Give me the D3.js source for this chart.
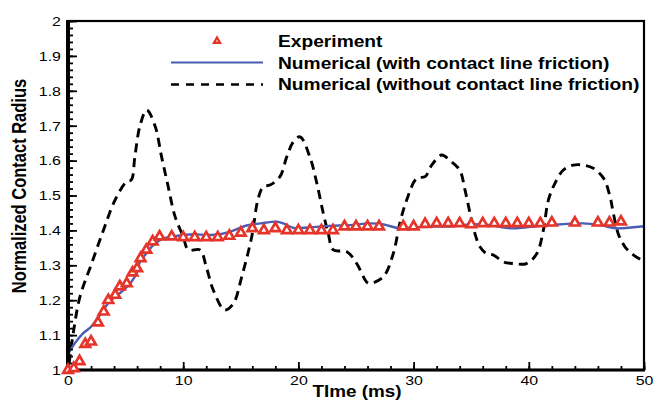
<!DOCTYPE html>
<html>
<head>
<meta charset="utf-8">
<script src="https://cdn.jsdelivr.net/npm/d3@7"></script>
<style>
  html, body { margin: 0; padding: 0; background: #fff; }
  svg { display: block; font-family: "Liberation Sans", Arial, sans-serif; }
</style>
</head>
<body>
<div id="root"></div>
<script>
// experiment (red open triangles)
const expT = [0, 0.5, 1.0, 1.5, 2.0, 2.6, 3.1, 3.5, 4.1, 4.5, 5.1, 5.6, 6.0, 6.3, 6.8, 7.35, 7.95,
  9, 10, 11, 12, 13, 14, 15, 16, 17, 18, 19, 20, 21, 22, 23, 24, 25, 26, 27,
  29.1, 30, 31, 32, 33, 34, 35, 36, 37, 38, 39, 40, 41, 42, 44, 46, 47, 48];
const expR = [1.0, 1.005, 1.025, 1.074, 1.081, 1.136, 1.167, 1.2, 1.215, 1.239, 1.248, 1.279, 1.291, 1.32, 1.344, 1.368, 1.382,
  1.382, 1.38, 1.38, 1.38, 1.38, 1.384, 1.393, 1.406, 1.4, 1.406, 1.4, 1.4, 1.4, 1.4, 1.4, 1.411, 1.411, 1.411, 1.411,
  1.411, 1.411, 1.418, 1.42, 1.42, 1.42, 1.417, 1.42, 1.42, 1.42, 1.42, 1.42, 1.42, 1.422, 1.422, 1.422, 1.422, 1.425];

// numerical, with contact line friction (blue)
const withT = [0, 0.6, 1.3, 2.0, 2.8, 3.6, 4.5, 5.4, 5.95, 6.25, 6.8, 7.4, 8.3, 9.4, 10.9, 12.0, 13.2, 14.4, 15.5,
  16.7, 18.1, 18.7, 19.6, 21.0, 22.7, 24.5, 26.2, 27.4, 28.8, 30.3, 31.7, 33.2, 35.2, 36.6, 38.4, 39.8, 41.8,
  44.7, 46.2, 47.6, 49.7, 50];
const withR = [1.045, 1.077, 1.105, 1.124, 1.158, 1.196, 1.22, 1.248, 1.277, 1.31, 1.334, 1.358, 1.377, 1.384, 1.389, 1.387, 1.389, 1.4, 1.414,
  1.42, 1.425, 1.42, 1.407, 1.409, 1.413, 1.415, 1.42, 1.417, 1.406, 1.409, 1.411, 1.411, 1.418, 1.415, 1.406, 1.409, 1.415,
  1.42, 1.415, 1.406, 1.411, 1.412];

// numerical, without contact line friction (black dashed)
const withoutT = [0.1, 0.5, 1.04, 2.05, 3.07, 4.08, 5.09, 5.5, 5.8, 6.25, 6.83, 7.55, 8.13, 8.7, 9.29, 10.0, 10.45, 11.46,
  12.0, 12.6, 13.6, 14.35, 15.08, 15.95, 16.5, 16.95, 17.53, 18.4, 18.98, 19.56, 20.14, 21.0, 21.6, 22.16, 22.6, 23.03,
  24.2, 25.06, 25.9, 26.2, 27.37, 28.24, 28.8, 29.4, 30.27, 31.0, 31.57, 32.44, 33.16, 34.0, 34.46, 34.9, 35.33, 35.76,
  36.3, 36.9, 37.8, 38.66, 39.8, 40.7, 41.26, 41.7, 42.27, 43.0, 43.86, 44.73, 45.6, 46.5, 47.05, 47.34, 47.77, 48.35,
  49.07, 49.8, 50];
const withoutR = [1.02, 1.115, 1.21, 1.305, 1.4, 1.487, 1.54, 1.545, 1.61, 1.7, 1.745, 1.7, 1.61, 1.525, 1.44, 1.382, 1.344, 1.344,
  1.296, 1.23, 1.172, 1.19, 1.267, 1.382, 1.49, 1.525, 1.53, 1.554, 1.61, 1.654, 1.668, 1.61, 1.535, 1.449, 1.39, 1.344,
  1.339, 1.305, 1.253, 1.248, 1.267, 1.334, 1.42, 1.487, 1.549, 1.554, 1.587, 1.616, 1.6, 1.573, 1.516, 1.449, 1.39, 1.353,
  1.334, 1.33, 1.31, 1.305, 1.305, 1.334, 1.4, 1.487, 1.535, 1.573, 1.587, 1.587, 1.578, 1.549, 1.497, 1.449, 1.39, 1.353,
  1.33, 1.315, 1.313];

const xTicks = [0, 10, 20, 30, 40, 50];
const yTicks = [1, 1.1, 1.2, 1.3, 1.4, 1.5, 1.6, 1.7, 1.8, 1.9, 2];
const legendLabels = ['Experiment', 'Numerical (with contact line friction)', 'Numerical (without contact line friction)'];

const w = 654, h = 404;
const mLeft = 68, mRight = 644, mTop = 21, mBottom = 370;
const stretch = 1.18;   // text in the picture is wider than it is tall
const red = '#e5352b', blue = '#4a5db5';

const x = d3.scaleLinear().domain([0, 50]).range([mLeft, mRight]);
const y = d3.scaleLinear().domain([1, 2]).range([mBottom, mTop]);

const svg = d3.select('#root').append('svg')
  .attr('width', w)
  .attr('height', h);

svg.append('clipPath').attr('id', 'plot')
  .append('rect')
  .attr('x', mLeft).attr('y', mTop)
  .attr('width', mRight - mLeft).attr('height', mBottom - mTop);

// curves
const line = d3.line().curve(d3.curveCatmullRom.alpha(0.5));

svg.append('path')
  .attr('clip-path', 'url(#plot)')
  .attr('d', line(withoutT.map((t, i) => [x(t), y(withoutR[i])])))
  .attr('fill', 'none')
  .attr('stroke', '#000')
  .attr('stroke-width', 2.9)
  .attr('stroke-dasharray', '9,6');

svg.append('path')
  .attr('clip-path', 'url(#plot)')
  .attr('d', line(withT.map((t, i) => [x(t), y(withR[i])])))
  .attr('fill', 'none')
  .attr('stroke', blue)
  .attr('stroke-width', 2.4);

// axes
const yAxis = svg.append('g')
  .attr('transform', `translate(${mLeft},0)`)
  .call(d3.axisLeft(y).tickValues(yTicks).tickSize(-9).tickPadding(6).tickFormat(d3.format('~g')));
yAxis.append('g')
  .call(d3.axisLeft(y).tickValues(d3.range(1, 2.001, 0.02)).tickSize(-5).tickFormat(''));

const xAxis = svg.append('g')
  .attr('transform', `translate(0,${mBottom})`)
  .call(d3.axisBottom(x).tickValues(xTicks).tickSize(-8).tickPadding(5).tickFormat(d3.format('d')));
xAxis.append('g')
  .call(d3.axisBottom(x).tickValues(d3.range(0, 50.01, 2)).tickSize(-4).tickFormat(''));

svg.selectAll('.domain').remove();
svg.selectAll('.tick line').attr('stroke', '#000').attr('stroke-width', 1.8);
svg.selectAll('.tick text')
  .attr('fill', '#000')
  .style('font-size', '13.5px')
  .attr('transform', `scale(${stretch},1)`);

// frame
svg.append('rect')
  .attr('x', mLeft).attr('y', mTop)
  .attr('width', mRight - mLeft).attr('height', mBottom - mTop)
  .attr('fill', 'none')
  .attr('stroke', '#000')
  .attr('stroke-width', 2.2);
svg.append('line')
  .attr('x1', mLeft).attr('x2', mLeft).attr('y1', mTop - 1).attr('y2', mBottom + 1.5)
  .attr('stroke', '#000').attr('stroke-width', 4);
svg.append('line')
  .attr('x1', mLeft - 2).attr('x2', mRight + 1).attr('y1', mBottom).attr('y2', mBottom)
  .attr('stroke', '#000').attr('stroke-width', 3);

// experiment markers
const tri = d3.symbol().type(d3.symbolTriangle);
svg.selectAll('path.exp')
  .data(expT)
  .enter()
  .append('path')
  .attr('class', 'exp')
  .attr('d', tri.size(40)())
  .attr('transform', (t, i) => `translate(${x(t)},${y(expR[i])})`)
  .attr('fill', '#fff')
  .attr('stroke', red)
  .attr('stroke-width', 2.7);

// axis titles
svg.append('text')
  .attr('transform', `translate(357,397) scale(${stretch},1)`)
  .attr('text-anchor', 'middle')
  .style('font-size', '16px')
  .style('font-weight', 'bold')
  .text('TIme (ms)');

svg.append('text')
  .attr('transform', `translate(26,186) scale(${stretch},1) rotate(-90)`)
  .attr('text-anchor', 'middle')
  .style('font-size', '16.5px')
  .style('font-weight', 'bold')
  .text('Normalized Contact Radius');

// legend
const legend = svg.append('g');
legend.append('path')
  .attr('d', tri.size(16)())
  .attr('transform', 'translate(217,41)')
  .attr('fill', '#fff')
  .attr('stroke', red)
  .attr('stroke-width', 2.3);
legend.append('line')
  .attr('x1', 171).attr('x2', 263).attr('y1', 62.5).attr('y2', 62.5)
  .attr('stroke', blue).attr('stroke-width', 2.2);
legend.append('line')
  .attr('x1', 171).attr('x2', 263).attr('y1', 84.5).attr('y2', 84.5)
  .attr('stroke', '#000').attr('stroke-width', 2.6)
  .attr('stroke-dasharray', '8,7');

legend.selectAll('text.lab')
  .data(legendLabels)
  .enter()
  .append('text')
  .attr('class', 'lab')
  .attr('transform', (d, i) => `translate(278,${47 + i * 21.5}) scale(1.2,1)`)
  .style('font-size', '16px')
  .style('font-weight', 'bold')
  .text(d => d);
</script>
</body>
</html>
